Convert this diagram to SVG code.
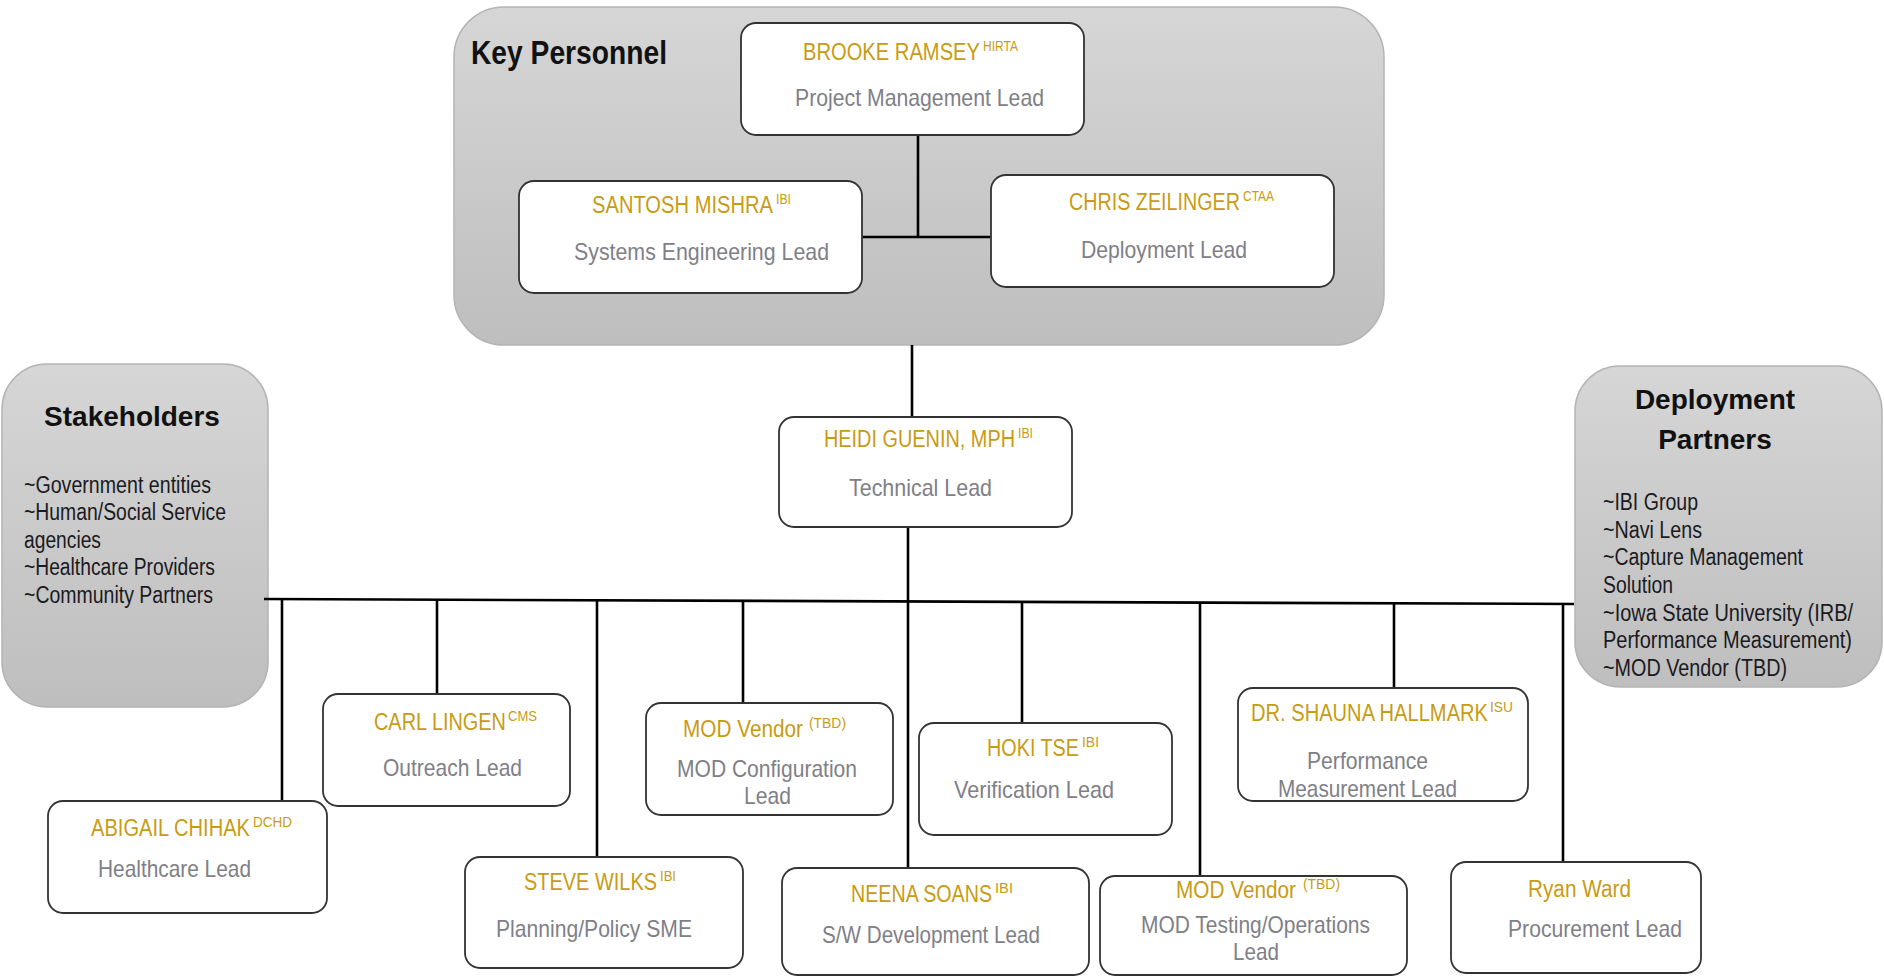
<svg xmlns="http://www.w3.org/2000/svg" width="1884" height="977" viewBox="0 0 1884 977">
<defs>
<linearGradient id="gray" x1="0" y1="0" x2="0" y2="1">
<stop offset="0" stop-color="#D6D6D6"/>
<stop offset="1" stop-color="#BEBEBE"/>
</linearGradient>
<style>
text{font-family:'Liberation Sans Narrow','Arial Narrow','Liberation Sans',Arial,sans-serif}
.cont{fill:url(#gray);stroke:#B4B4B4;stroke-width:1.5}
.box{fill:#FFFFFF;stroke:#333333;stroke-width:1.8}
.nm{font-size:23px;fill:#C89B14}
.sup{font-size:14px;fill:#C89B14}
.rl{font-size:24px;fill:#7F8087}
.hd{font-family:'Liberation Sans',Arial,sans-serif;font-size:28px;font-weight:bold;fill:#111111;text-anchor:middle}
.kp{font-size:33px;font-weight:bold;fill:#111111}
.ls{font-size:23px;fill:#1A1A22}
.ln{stroke:#000000;stroke-width:2.6;fill:none}
</style>
</defs>

<g id="key-personnel">
<rect class="cont" x="454" y="7" width="930" height="338" rx="50"/>
<text class="kp" x="471" y="64" textLength="196" lengthAdjust="spacingAndGlyphs">Key Personnel</text>
</g>

<g id="stakeholders">
<rect class="cont" x="2" y="364" width="266" height="343" rx="45"/>
<text class="hd" x="132" y="426">Stakeholders</text>
<text class="ls" x="24" y="493" textLength="187" lengthAdjust="spacingAndGlyphs">~Government entities</text>
<text class="ls" x="24" y="520" textLength="202" lengthAdjust="spacingAndGlyphs">~Human/Social Service</text>
<text class="ls" x="24" y="548" textLength="77" lengthAdjust="spacingAndGlyphs">agencies</text>
<text class="ls" x="24" y="575" textLength="191" lengthAdjust="spacingAndGlyphs">~Healthcare Providers</text>
<text class="ls" x="24" y="603" textLength="189" lengthAdjust="spacingAndGlyphs">~Community Partners</text>
</g>

<g id="deployment-partners">
<rect class="cont" x="1575" y="366" width="307" height="321" rx="45"/>
<text class="hd" x="1715" y="409">Deployment</text>
<text class="hd" x="1715" y="449">Partners</text>
<text class="ls" x="1603" y="510" textLength="95" lengthAdjust="spacingAndGlyphs">~IBI Group</text>
<text class="ls" x="1603" y="538" textLength="99" lengthAdjust="spacingAndGlyphs">~Navi Lens</text>
<text class="ls" x="1603" y="565" textLength="200" lengthAdjust="spacingAndGlyphs">~Capture Management</text>
<text class="ls" x="1603" y="593" textLength="70" lengthAdjust="spacingAndGlyphs">Solution</text>
<text class="ls" x="1603" y="621" textLength="250" lengthAdjust="spacingAndGlyphs">~Iowa State University (IRB/</text>
<text class="ls" x="1603" y="648" textLength="249" lengthAdjust="spacingAndGlyphs">Performance Measurement)</text>
<text class="ls" x="1603" y="676" textLength="184" lengthAdjust="spacingAndGlyphs">~MOD Vendor (TBD)</text>
</g>

<g id="connectors">
<line class="ln" x1="918" y1="135" x2="918" y2="237"/>
<line class="ln" x1="862" y1="237" x2="991" y2="237"/>
<line class="ln" x1="912" y1="345" x2="912" y2="417"/>
<line class="ln" x1="908" y1="527" x2="908" y2="868"/>
<line class="ln" x1="264" y1="599" x2="1574" y2="604"/>
<line class="ln" x1="282" y1="599" x2="282" y2="801"/>
<line class="ln" x1="437" y1="600" x2="437" y2="694"/>
<line class="ln" x1="597" y1="600" x2="597" y2="857"/>
<line class="ln" x1="743" y1="601" x2="743" y2="703"/>
<line class="ln" x1="1022" y1="602" x2="1022" y2="723"/>
<line class="ln" x1="1200" y1="602" x2="1200" y2="876"/>
<line class="ln" x1="1394" y1="603" x2="1394" y2="688"/>
<line class="ln" x1="1563" y1="604" x2="1563" y2="862"/>
</g>

<g id="brooke-ramsey">
<rect class="box" x="741" y="23" width="343" height="112" rx="15"/>
<text class="nm" x="803" y="60" textLength="177" lengthAdjust="spacingAndGlyphs">BROOKE  RAMSEY</text>
<text class="sup" x="983" y="51" textLength="35" lengthAdjust="spacingAndGlyphs">HIRTA</text>
<text class="rl" x="795" y="106" textLength="249" lengthAdjust="spacingAndGlyphs">Project Management Lead</text>
</g>

<g id="santosh-mishra">
<rect class="box" x="519" y="181" width="343" height="112" rx="15"/>
<text class="nm" x="592" y="213" textLength="181" lengthAdjust="spacingAndGlyphs">SANTOSH MISHRA</text>
<text class="sup" x="776" y="204" textLength="15" lengthAdjust="spacingAndGlyphs">IBI</text>
<text class="rl" x="574" y="260" textLength="255" lengthAdjust="spacingAndGlyphs">Systems  Engineering Lead</text>
</g>

<g id="chris-zeilinger">
<rect class="box" x="991" y="175" width="343" height="112" rx="15"/>
<text class="nm" x="1069" y="210" textLength="171" lengthAdjust="spacingAndGlyphs">CHRIS ZEILINGER</text>
<text class="sup" x="1243" y="201" textLength="31" lengthAdjust="spacingAndGlyphs">CTAA</text>
<text class="rl" x="1081" y="258" textLength="166" lengthAdjust="spacingAndGlyphs">Deployment Lead</text>
</g>

<g id="heidi-guenin">
<rect class="box" x="779" y="417" width="293" height="110" rx="15"/>
<text class="nm" x="824" y="447" textLength="191" lengthAdjust="spacingAndGlyphs">HEIDI GUENIN, MPH</text>
<text class="sup" x="1018" y="438" textLength="15" lengthAdjust="spacingAndGlyphs">IBI</text>
<text class="rl" x="849" y="496" textLength="143" lengthAdjust="spacingAndGlyphs">Technical Lead</text>
</g>

<g id="abigail-chihak">
<rect class="box" x="48" y="801" width="279" height="112" rx="15"/>
<text class="nm" x="91" y="836" textLength="159" lengthAdjust="spacingAndGlyphs">ABIGAIL CHIHAK</text>
<text class="sup" x="253" y="827" textLength="39" lengthAdjust="spacingAndGlyphs">DCHD</text>
<text class="rl" x="98" y="877" textLength="153" lengthAdjust="spacingAndGlyphs">Healthcare Lead</text>
</g>

<g id="carl-lingen">
<rect class="box" x="323" y="694" width="247" height="112" rx="15"/>
<text class="nm" x="374" y="730" textLength="132" lengthAdjust="spacingAndGlyphs">CARL  LINGEN</text>
<text class="sup" x="508" y="721" textLength="29" lengthAdjust="spacingAndGlyphs">CMS</text>
<text class="rl" x="383" y="776" textLength="139" lengthAdjust="spacingAndGlyphs">Outreach Lead</text>
</g>

<g id="steve-wilks">
<rect class="box" x="465" y="857" width="278" height="111" rx="15"/>
<text class="nm" x="524" y="890" textLength="133" lengthAdjust="spacingAndGlyphs">STEVE WILKS</text>
<text class="sup" x="660" y="881" textLength="16" lengthAdjust="spacingAndGlyphs">IBI</text>
<text class="rl" x="496" y="937" textLength="196" lengthAdjust="spacingAndGlyphs">Planning/Policy SME</text>
</g>

<g id="mod-vendor-config">
<rect class="box" x="646" y="703" width="247" height="112" rx="15"/>
<text class="nm" x="683" y="737" textLength="120" lengthAdjust="spacingAndGlyphs">MOD Vendor</text>
<text class="sup" x="809" y="728" textLength="37" lengthAdjust="spacingAndGlyphs">(TBD)</text>
<text class="rl" x="677" y="777" textLength="180" lengthAdjust="spacingAndGlyphs">MOD Configuration</text>
<text class="rl" x="744" y="804" textLength="47" lengthAdjust="spacingAndGlyphs">Lead</text>
</g>

<g id="neena-soans">
<rect class="box" x="782" y="868" width="307" height="107" rx="15"/>
<text class="nm" x="851" y="902" textLength="141" lengthAdjust="spacingAndGlyphs">NEENA  SOANS</text>
<text class="sup" x="995" y="893" textLength="18" lengthAdjust="spacingAndGlyphs">IBI</text>
<text class="rl" x="822" y="943" textLength="218" lengthAdjust="spacingAndGlyphs">S/W Development Lead</text>
</g>

<g id="hoki-tse">
<rect class="box" x="919" y="723" width="253" height="112" rx="15"/>
<text class="nm" x="987" y="756" textLength="92" lengthAdjust="spacingAndGlyphs">HOKI TSE</text>
<text class="sup" x="1082" y="747" textLength="17" lengthAdjust="spacingAndGlyphs">IBI</text>
<text class="rl" x="954" y="798" textLength="160" lengthAdjust="spacingAndGlyphs">Verification Lead</text>
</g>

<g id="mod-vendor-testing">
<rect class="box" x="1100" y="876" width="307" height="99" rx="15"/>
<text class="nm" x="1176" y="898" textLength="120" lengthAdjust="spacingAndGlyphs">MOD Vendor</text>
<text class="sup" x="1303" y="889" textLength="37" lengthAdjust="spacingAndGlyphs">(TBD)</text>
<text class="rl" x="1141" y="933" textLength="229" lengthAdjust="spacingAndGlyphs">MOD Testing/Operations</text>
<text class="rl" x="1233" y="960" textLength="46" lengthAdjust="spacingAndGlyphs">Lead</text>
</g>

<g id="shauna-hallmark">
<rect class="box" x="1238" y="688" width="290" height="113" rx="15"/>
<text class="nm" x="1251" y="721" textLength="237" lengthAdjust="spacingAndGlyphs">DR.  SHAUNA  HALLMARK</text>
<text class="sup" x="1490" y="712" textLength="23" lengthAdjust="spacingAndGlyphs">ISU</text>
<text class="rl" x="1307" y="769" textLength="121" lengthAdjust="spacingAndGlyphs">Performance</text>
<text class="rl" x="1278" y="797" textLength="179" lengthAdjust="spacingAndGlyphs">Measurement Lead</text>
</g>

<g id="ryan-ward">
<rect class="box" x="1451" y="862" width="250" height="111" rx="15"/>
<text class="nm" x="1528" y="897" textLength="103" lengthAdjust="spacingAndGlyphs">Ryan Ward</text>
<text class="rl" x="1508" y="937" textLength="174" lengthAdjust="spacingAndGlyphs">Procurement Lead</text>
</g>
</svg>
